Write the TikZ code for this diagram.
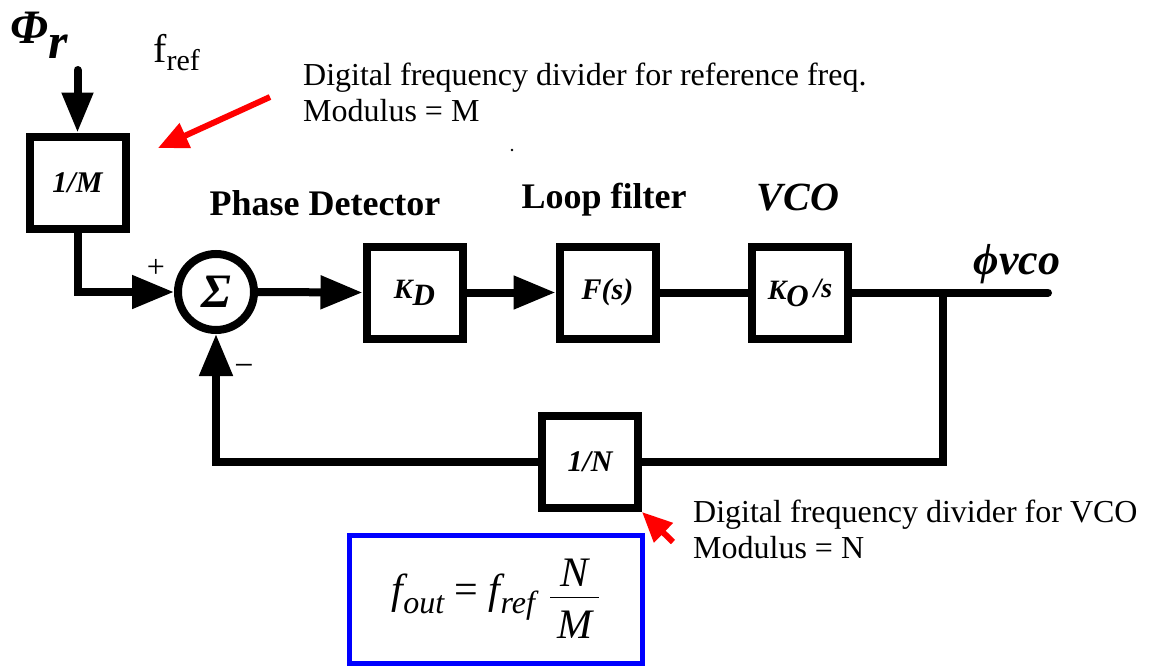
\documentclass[tikz,border=0pt]{standalone}
\usepackage{fontspec}
\setmainfont{Liberation Serif}
\usetikzlibrary{arrows.meta}
\begin{document}
\begin{tikzpicture}[x=1pt,y=-1pt,
  blk/.style={draw, line width=8pt, minimum width=96pt, minimum height=92pt, inner sep=0pt,
    font=\fontsize{30}{34}\selectfont\bfseries\itshape},
  sig/.style={line width=8pt},
  bigarrow/.style={-{Triangle[length=42pt,width=32pt]}},
  note/.style={font=\fontsize{32}{36}\selectfont, align=left, anchor=west, inner sep=0pt},
  heading/.style={font=\fontsize{36}{40}\selectfont\bfseries, inner sep=0pt},
  ptr/.style={draw=red, line width=6pt, -{Triangle[length=30pt,width=26pt]}}
]
\useasboundingbox (0,0) rectangle (1149,667);

% blocks
\node[blk] (M)   at (77.5,182.5) {1/M};
\node[draw, circle, line width=8pt, minimum size=76pt, inner sep=0pt,
      font=\fontsize{48}{48}\selectfont\bfseries\itshape] (sum) at (216,292) {Σ};
\node[blk] (KD)  at (414.5,292.5) {\fontsize{28}{28}\selectfont K\raisebox{-7pt}{\fontsize{31}{31}\selectfont D}};
\node[blk] (F)   at (607.5,292.5) {F(s)};
\node[blk] (VCO) at (800,292.5) {\fontsize{28}{28}\selectfont K\raisebox{-7pt}{\fontsize{31}{31}\selectfont O}\,\raisebox{2pt}{\fontsize{28}{28}\selectfont/s}};
\node[blk] (N)   at (590,462) {1/N};

% signal path
\coordinate (in)  at (77.5,70);
\coordinate (out) at (1048,292.5);
\coordinate (br)  at (943,292.5);
\draw[sig, line cap=round, -{Triangle[length=40pt,width=30pt]}] (in) -- (M.north);
\draw[sig, bigarrow] (M.south) |- (sum.west);
\draw[sig, bigarrow] (sum.east) -- (KD.west);
\draw[sig, bigarrow] (KD.east) -- (F.west);
\draw[sig] (F.east) -- (VCO.west);
\draw[sig, line cap=round] (VCO.east) -- (out);
\draw[sig] (br) |- (N.east);
\draw[sig, bigarrow] (N.west) -| (sum.south);

% signs
\node[font=\fontsize{32}{32}\selectfont, inner sep=0pt] (plus) at (156,268) {+};
\node[font=\fontsize{34}{34}\selectfont, inner sep=0pt] (minus) at (244,370) {−};

% signal names
\node[anchor=base west, inner sep=0pt, font=\bfseries\itshape] (phir) at (10,43)
  {\fontsize{48}{48}\selectfont Φ\raisebox{-15pt}{\fontsize{50}{50}\selectfont r}};
\node[anchor=base west, inner sep=0pt] (fref) at (153,62)
  {\fontsize{40}{40}\selectfont f\raisebox{-8pt}{\fontsize{30}{30}\selectfont ref}};
\node[inner sep=0pt, font=\fontsize{44}{44}\selectfont\bfseries\itshape] (phivco) at (1017,264) {ϕvco};

% block headings
\node[heading] (pd) at (325,203) {Phase Detector};
\node[heading] (lf) at (604,200) {Loop filter};
\node[heading, font=\fontsize{40}{40}\selectfont\bfseries\itshape] (vcot) at (798,198) {VCO};

% annotations
\node[note] (refnote) at (303,92) {Digital frequency divider for reference freq.\\Modulus = M};
\node[note] (vconote) at (693,529) {Digital frequency divider for VCO\\Modulus = N};
\fill (512,150) circle (1.3pt);
\coordinate (p1) at (270,97);
\coordinate (p2) at (673,542);
\draw[ptr] (p1) -- (158,148);
\draw[ptr] (p2) -- (N.south east);

% output frequency relation
\node[draw=blue, line width=5pt, minimum width=293pt, minimum height=128pt, inner sep=0pt,
      font=\fontsize{42}{46}\selectfont] (eq) at (496,599)
  {\itshape f\raisebox{-10pt}{\fontsize{32}{32}\selectfont out}\upshape\ = \itshape f\raisebox{-10pt}{\fontsize{32}{32}\selectfont ref}\hspace{14pt}%
   $\displaystyle\frac{\mbox{\,\itshape N\,}\rule[-9pt]{0pt}{9pt}}{\rule{0pt}{40pt}\mbox{\,\itshape M\,}}$};
\end{tikzpicture}
\end{document}
